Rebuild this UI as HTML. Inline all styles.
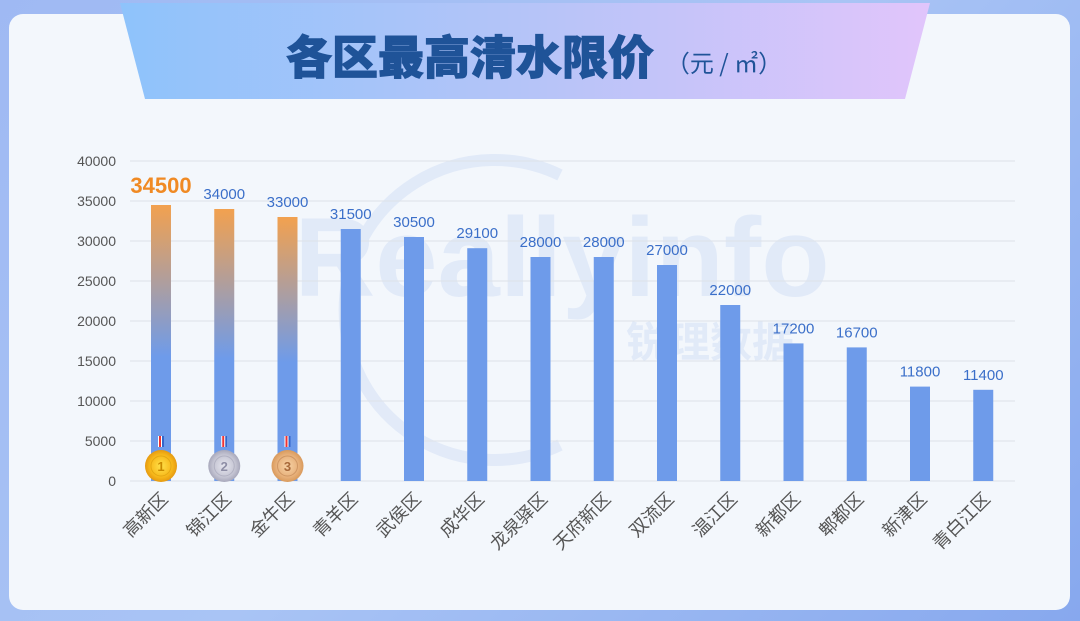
<!DOCTYPE html>
<html><head><meta charset="utf-8"><style>
html,body{margin:0;padding:0;}
body{width:1080px;height:621px;overflow:hidden;background:linear-gradient(135deg,#9fb9f3 0%,#a9c4f5 50%,#87a8ee 100%);font-family:"Liberation Sans","Noto Sans CJK SC",sans-serif;}
</style></head><body>
<svg width="1080" height="621" viewBox="0 0 1080 621" xmlns="http://www.w3.org/2000/svg" style="position:absolute;left:0;top:0">
<defs>
<linearGradient id="tg" x1="0" x2="1" y1="0" y2="0"><stop offset="0" stop-color="#8ec3fb"/><stop offset="0.5" stop-color="#b5c4f8"/><stop offset="1" stop-color="#e1c5fb"/></linearGradient>
<linearGradient id="og" x1="0" x2="0" y1="0" y2="1"><stop offset="0" stop-color="#f2a14f"/><stop offset="0.55" stop-color="#6e9bea"/><stop offset="1" stop-color="#6e9bea"/></linearGradient>
<radialGradient id="gold"><stop offset="0" stop-color="#ffe14a"/><stop offset="0.7" stop-color="#f7b81a"/><stop offset="1" stop-color="#e69a10"/></radialGradient>
<radialGradient id="silv"><stop offset="0" stop-color="#e6e6ef"/><stop offset="0.7" stop-color="#c5c5d3"/><stop offset="1" stop-color="#a8a8bb"/></radialGradient>
<radialGradient id="brz"><stop offset="0" stop-color="#f7d2a6"/><stop offset="0.7" stop-color="#e7b07a"/><stop offset="1" stop-color="#d99a5c"/></radialGradient>
</defs>
<rect x="9" y="14" width="1061" height="596" rx="14" fill="#f3f7fc"/>
<polygon points="120,3 930,3 905,99 145,99" fill="url(#tg)"/>
<text x="470" y="74" text-anchor="middle" font-size="46" font-weight="900" fill="#1f5398" stroke="#1f5398" stroke-width="1" font-family="'Noto Sans CJK SC',sans-serif">各区最高清水限价</text>
<text x="724" y="72" text-anchor="middle" font-size="24" fill="#1f5398" font-family="'Noto Sans CJK SC',sans-serif">（元 / ㎡）</text>
<g opacity="0.09" fill="#3b6fd8">
<path d="M560,175 A150,150 0 1 0 560,445" fill="none" stroke="#3b6fd8" stroke-width="12"/>
<text x="562" y="296" text-anchor="middle" font-size="112" font-weight="bold" font-family="'Liberation Sans',sans-serif">Reallyinfo</text>
<text x="710" y="357" text-anchor="middle" font-size="42" font-weight="bold" font-family="'Noto Sans CJK SC',sans-serif">锐理数据</text>
</g>
<g stroke="#dde1e8" stroke-width="1">
<line x1="130" x2="1015" y1="161" y2="161"/><line x1="130" x2="1015" y1="201" y2="201"/><line x1="130" x2="1015" y1="241" y2="241"/><line x1="130" x2="1015" y1="281" y2="281"/><line x1="130" x2="1015" y1="321" y2="321"/><line x1="130" x2="1015" y1="361" y2="361"/><line x1="130" x2="1015" y1="401" y2="401"/><line x1="130" x2="1015" y1="441" y2="441"/><line x1="130" x2="1015" y1="481" y2="481"/>
</g>
<g font-size="14" fill="#555" text-anchor="end">
<text x="116" y="166">40000</text><text x="116" y="206">35000</text><text x="116" y="246">30000</text><text x="116" y="286">25000</text><text x="116" y="326">20000</text><text x="116" y="366">15000</text><text x="116" y="406">10000</text><text x="116" y="446">5000</text><text x="116" y="486">0</text>
</g>
<g id="bars"></g>
<g id="labs" font-size="18" fill="#555"></g>
</svg>
<script>
var names=["高新区","锦江区","金牛区","青羊区","武侯区","成华区","龙泉驿区","天府新区","双流区","温江区","新都区","郫都区","新津区","青白江区"];
var vals=[34500,34000,33000,31500,30500,29100,28000,28000,27000,22000,17200,16700,11800,11400];
var ns="http://www.w3.org/2000/svg",b=document.getElementById("bars"),l=document.getElementById("labs");
function el(t,a,p,txt){var e=document.createElementNS(ns,t);for(var k in a)e.setAttribute(k,a[k]);if(txt)e.textContent=txt;p.appendChild(e);return e;}
var med=["gold","silv","brz"],mc=["#c98a00","#8e8ea6","#a8693a"];
for(var i=0;i<14;i++){var cx=161+63.25*i,y=481-vals[i]*0.008;
el("rect",{x:cx-10,y:y,width:20,height:481-y,fill:i<3?"url(#og)":"#6e9bea"},b);
if(i==0)el("text",{x:cx,y:y-12,"text-anchor":"middle","font-size":22,"font-weight":"bold",fill:"#f08a24"},b,vals[i]);
else el("text",{x:cx,y:y-10,"text-anchor":"middle","font-size":15,fill:"#3b6fc9"},b,vals[i]);
if(i<3){el("rect",{x:cx-3,y:436,width:6,height:11,fill:"#fff"},b);el("rect",{x:cx-2,y:436,width:2,height:11,fill:"#e33"},b);el("rect",{x:cx+1,y:436,width:2,height:11,fill:"#36c"},b);
el("circle",{cx:cx,cy:466,r:16,fill:"url(#"+med[i]+")"},b);el("circle",{cx:cx,cy:466,r:10,fill:"none",stroke:mc[i],"stroke-opacity":0.4},b);
el("text",{x:cx,y:471,"text-anchor":"middle","font-size":13,"font-weight":"bold",fill:mc[i]},b,i+1);}
el("text",{x:0,y:0,"text-anchor":"end",transform:"translate("+(cx+8)+",500) rotate(-45)"},l,names[i]);}
</script>
</body></html>
